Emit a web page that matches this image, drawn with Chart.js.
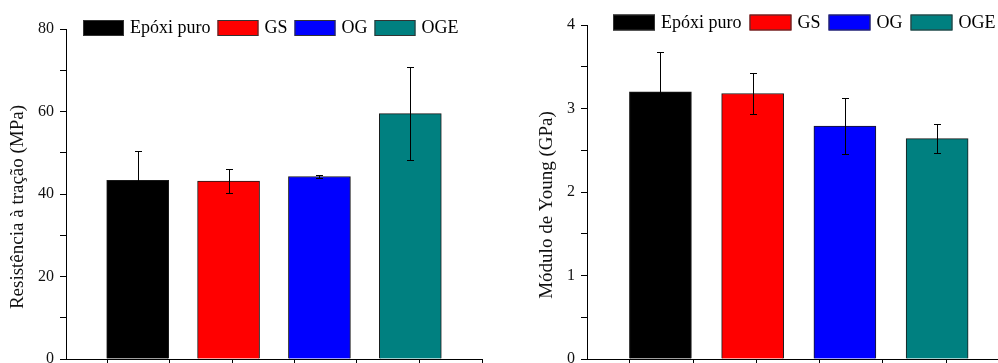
<!DOCTYPE html>
<html>
<head>
<meta charset="utf-8">
<script src="https://cdn.jsdelivr.net/npm/chart.js@4.4.1/dist/chart.umd.min.js"></script>
<style>
  body { margin: 0; background: #fff; }
  .wrap { position: absolute; top: 0; height: 363px; overflow: hidden; }
</style>
</head>
<body>
<div class="wrap" style="left:0;width:500px"><canvas id="tensile" width="500" height="363"></canvas></div>
<div class="wrap" style="left:500px;width:498px"><canvas id="young" width="498" height="363"></canvas></div>
<script>
const categories = ["Epóxi puro", "GS", "OG", "OGE"];
const barPositions = [1, 2, 3, 4];
const tensileValues = [43.3, 43.15, 44.25, 59.5];
const tensileErrors = [7.2, 2.85, 0.35, 11.25];
const youngValues = [3.2, 3.18, 2.79, 2.64];
const youngErrors = [0.475, 0.24, 0.33, 0.17];
const xTickPositions = [0.665, 1.355, 2.04, 2.73, 3.41, 4.1, 4.79];
const barColors = ["#000000", "#ff0000", "#0000ff", "#008080"];

const serif = "'Liberation Serif', 'Times New Roman', serif";

// error bars drawn on top of the bars, through the chart scales
const errorBars = {
  id: "errorBars",
  afterDatasetsDraw(chart) {
    const { ctx, scales: { x, y } } = chart;
    ctx.save();
    ctx.strokeStyle = "#000";
    ctx.lineWidth = 1;
    chart.data.datasets.forEach(ds => {
      ds.data.forEach((p, j) => {
        const e = ds.errors[j];
        const px = Math.round(x.getPixelForValue(p.x)) + 0.5;
        const top = Math.round(y.getPixelForValue(p.y + e)) + 0.5;
        const bot = Math.round(y.getPixelForValue(p.y - e)) + 0.5;
        ctx.beginPath();
        ctx.moveTo(px, top); ctx.lineTo(px, bot);
        ctx.moveTo(px - 3.5, top); ctx.lineTo(px + 3.5, top);
        ctx.moveTo(px - 3.5, bot); ctx.lineTo(px + 3.5, bot);
        ctx.stroke();
      });
    });
    ctx.restore();
  }
};

// Origin style legend: one row of boxes, overlapping the top of the plot
const boxLegend = {
  id: "boxLegend",
  afterDraw(chart, args, opts) {
    const ctx = chart.ctx;
    let x = opts.left;
    ctx.save();
    ctx.font = "18px " + serif;
    ctx.textBaseline = "middle";
    chart.data.datasets.forEach(ds => {
      ctx.fillStyle = ds.backgroundColor;
      ctx.fillRect(x, opts.top, opts.boxWidth, 16);
      ctx.strokeStyle = "#333";
      ctx.lineWidth = 1;
      ctx.strokeRect(x + 0.5, opts.top + 0.5, opts.boxWidth - 1, 15);
      x += opts.boxWidth + 6;
      ctx.fillStyle = "#000";
      ctx.fillText(ds.label, x, opts.top + 8.5);
      x += ctx.measureText(ds.label).width + opts.gap;
    });
    ctx.restore();
  }
};

// vertical axis title, sits a bit below the middle of the axis like in Origin
const yTitle = {
  id: "yTitle",
  afterDraw(chart, args, opts) {
    const ctx = chart.ctx;
    ctx.save();
    ctx.translate(opts.x, opts.y);
    ctx.rotate(-Math.PI / 2);
    ctx.font = "19px " + serif;
    ctx.fillStyle = "#111";
    ctx.textAlign = "center";
    ctx.textBaseline = "middle";
    ctx.fillText(opts.text, 0, 0);
    ctx.restore();
  }
};

function makeChart(id, values, errors, cfg) {
  const datasets = categories.map((c, i) => ({
    label: c,
    data: [{ x: barPositions[i], y: values[i] }],
    errors: [errors[i]],
    backgroundColor: barColors[i],
    borderColor: "#1a1a1a",
    borderWidth: 1,
    barThickness: 62,
    grouped: false
  }));

  return new Chart(document.getElementById(id), {
    type: "bar",
    data: { datasets: datasets },
    plugins: [errorBars, boxLegend, yTitle],
    options: {
      responsive: false,
      animation: false,
      devicePixelRatio: 1,
      layout: { padding: { top: cfg.padTop, right: cfg.padRight, left: 0, bottom: 0 } },
      plugins: {
        legend: { display: false },
        tooltip: { enabled: false },
        boxLegend: { left: cfg.legendLeft, top: cfg.legendTop, boxWidth: cfg.legendBox, gap: cfg.legendGap },
        yTitle: { text: cfg.title, x: cfg.titleX, y: cfg.titleY }
      },
      scales: {
        x: {
          type: "linear",
          min: cfg.xMin,
          max: cfg.xMax,
          offset: false,
          afterBuildTicks: s => {
            s.ticks = xTickPositions.filter(v => v <= s.max + 0.001).map(v => ({ value: v }));
          },
          afterFit: s => { s.height = 4; s.paddingLeft = 0; s.paddingRight = 0; },
          ticks: { display: false },
          grid: { offset: false, drawOnChartArea: false, tickLength: 6, tickColor: "#000" },
          border: { color: "#000", width: 1 }
        },
        y: {
          min: 0,
          max: cfg.yMax,
          afterFit: s => { s.width = cfg.axisWidth; s.paddingTop = 0; s.paddingBottom = 0; },
          ticks: {
            stepSize: cfg.yStep,
            padding: 6,
            color: "#111",
            font: { family: serif, size: 16 },
            callback: v => (Math.abs(v / cfg.yMajor - Math.round(v / cfg.yMajor)) < 1e-6 ? v : "")
          },
          grid: { drawOnChartArea: false, tickLength: 6, tickColor: "#000" },
          border: { color: "#000", width: 1 }
        }
      }
    }
  });
}

makeChart("tensile", tensileValues, tensileErrors, {
  xMin: 0.211, xMax: 4.789, yMax: 80, yStep: 10, yMajor: 20,
  axisWidth: 66, padTop: 29, padRight: 18,
  legendLeft: 83, legendTop: 20, legendBox: 41, legendGap: 7,
  title: "Resistência à tração (MPa)", titleX: 18, titleY: 207
});

makeChart("young", youngValues, youngErrors, {
  xMin: 0.204, xMax: 4.66, yMax: 4, yStep: 0.5, yMajor: 1,
  axisWidth: 87, padTop: 25, padRight: 0,
  legendLeft: 113, legendTop: 14.5, legendBox: 42, legendGap: 8,
  title: "Módulo de Young (GPa)", titleX: 47, titleY: 205
});
</script>
</body>
</html>
